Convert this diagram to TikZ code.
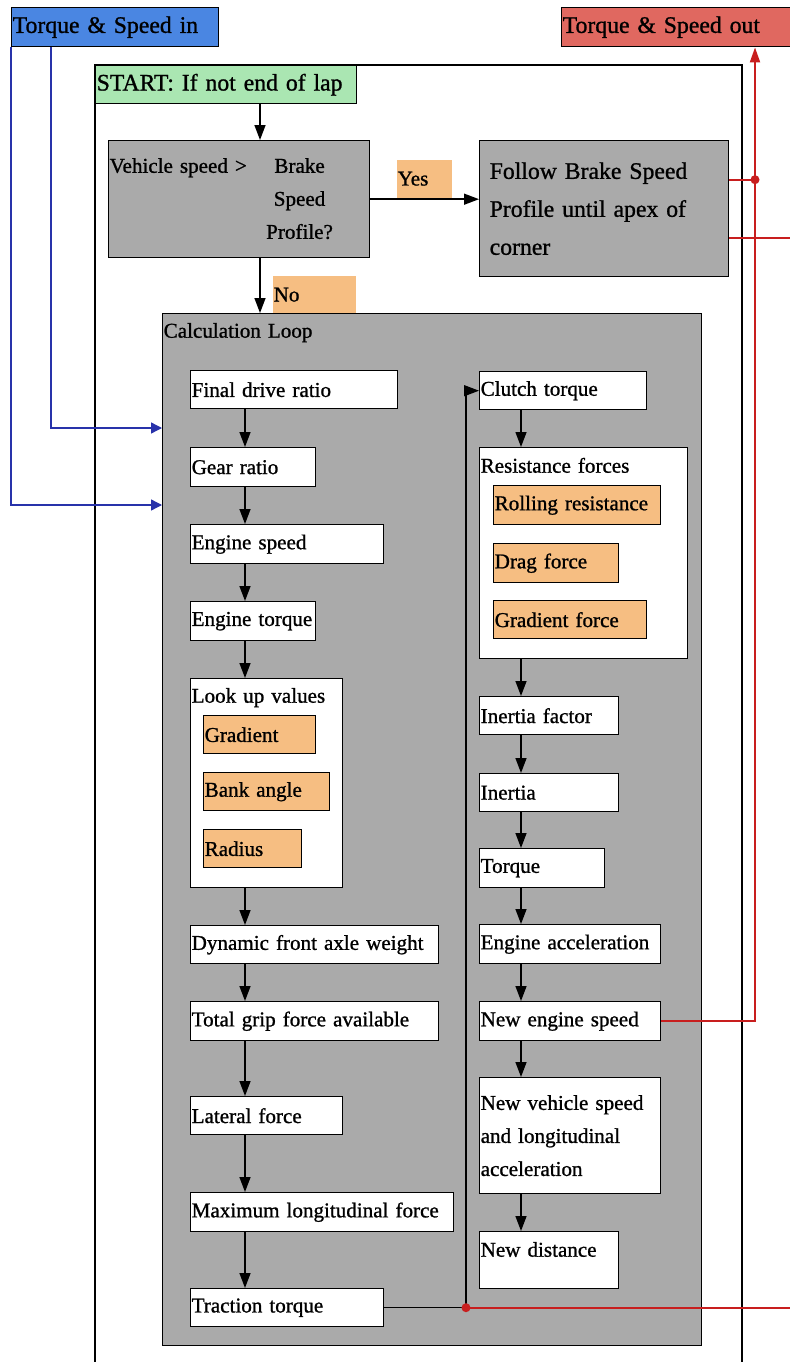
\documentclass[tikz,border=0pt]{standalone}
\usepackage{fontspec}
\setmainfont{Liberation Serif}[FakeBold=1]
\usetikzlibrary{arrows.meta}

\definecolor{inblue}{RGB}{74,134,226}
\definecolor{outred}{RGB}{224,104,96}
\definecolor{startgreen}{RGB}{170,230,178}
\definecolor{loopgray}{RGB}{170,170,170}
\definecolor{tagorange}{RGB}{246,190,130}
\definecolor{wireblue}{RGB}{40,50,170}
\definecolor{wirered}{RGB}{200,30,30}

\tikzset{
    blk/.style={draw, line width=0.8pt, anchor=north west, inner xsep=0.02cm,
        inner ysep=0pt, align=left, font=\fontsize{12}{18.8}\selectfont},
    wbox/.style={blk, fill=white},
    gbox/.style={blk, fill=loopgray},
    obox/.style={blk, fill=tagorange},
    tagbox/.style={blk, draw=none, fill=tagorange},
    big/.style={font=\fontsize{13.5}{21.6}\selectfont},
    arr/.style={line width=0.8pt, -{Triangle[length=0.3cm, width=0.22cm]}},
    bluewire/.style={draw=wireblue, line width=0.8pt, -{Triangle[length=0.22cm, width=0.22cm]}},
    redwire/.style={draw=wirered, line width=1.1pt},
}

\begin{document}
\begin{tikzpicture}[x=0.02cm, y=-0.02cm]
    \useasboundingbox (0,0) rectangle (789,1362);

    % Outer frame
    \draw[line width=0.8pt] (95,1400) |- (742,65) -- (742,1400);

    % In and out
    \node[blk, big, fill=inblue, text width=4.10cm, minimum height=0.78cm] (tin) at (11,7) {Torque \& Speed in};
    \node[blk, big, fill=outred, text width=4.60cm, minimum height=0.78cm] (tout) at (561,7) {Torque \& Speed out};

    % Start and decision
    \node[blk, big, fill=startgreen, text width=5.18cm, minimum height=0.76cm] (start) at (95,65) {START: If not end of lap};
    \node[gbox, text width=5.18cm, minimum height=2.34cm] (dec) at (108,140)
        {\begin{tabular}{@{}l@{\hspace{11pt}}c@{}}Vehicle speed > & Brake\\ & Speed\\ & Profile?\end{tabular}};
    \node[gbox, big, inner xsep=0.2cm, text width=4.58cm, minimum height=2.72cm] (follow) at (479,140)
        {Follow Brake Speed\\Profile until apex of\\corner};
    \node[tagbox, text width=1.06cm, minimum height=0.76cm] (yes) at (396,159) {Yes};
    \node[tagbox, text width=1.62cm, minimum height=0.76cm] (no) at (272,275) {No};

    % Calculation loop
    \node[gbox, text width=10.74cm, text height=0.48cm, text depth=20.16cm] (calc) at (162,313) {Calculation Loop};

    % Left column
    \node[wbox, text width=4.10cm, minimum height=0.76cm] (fdr) at (190,370) {Final drive ratio};
    \node[wbox, text width=2.46cm, minimum height=0.78cm] (gear) at (190,447) {Gear ratio};
    \node[wbox, text width=3.82cm, minimum height=0.78cm] (esp) at (190,524) {Engine speed};
    \node[wbox, text width=2.46cm, minimum height=0.78cm] (etq) at (190,601) {Engine torque};
    \node[wbox, text width=3.00cm, text height=0.48cm, text depth=3.70cm] (look) at (190,678) {Look up values};
    \node[obox, text width=2.20cm, minimum height=0.76cm] (grad) at (203,715) {Gradient};
    \node[obox, text width=2.48cm, minimum height=0.76cm] (bank) at (203,772) {Bank angle};
    \node[obox, text width=1.92cm, minimum height=0.76cm] (rad) at (203,829) {Radius};
    \node[wbox, text width=4.92cm, minimum height=0.76cm] (dfa) at (190,925) {Dynamic front axle weight};
    \node[wbox, text width=4.92cm, minimum height=0.78cm] (tgf) at (190,1001) {Total grip force available};
    \node[wbox, text width=3.00cm, minimum height=0.76cm] (lat) at (190,1096) {Lateral force};
    \node[wbox, text width=5.22cm, minimum height=0.78cm] (mlf) at (190,1192) {Maximum longitudinal force};
    \node[wbox, text width=3.82cm, minimum height=0.76cm] (trac) at (190,1288) {Traction torque};

    % Right column
    \node[wbox, text width=3.30cm, minimum height=0.76cm] (ct) at (479,371) {Clutch torque};
    \node[wbox, text width=4.12cm, text height=0.50cm, text depth=3.72cm] (res) at (479,447) {Resistance forces};
    \node[obox, text width=3.30cm, minimum height=0.78cm] (roll) at (493,485) {Rolling resistance};
    \node[obox, text width=2.46cm, minimum height=0.78cm] (drag) at (493,543) {Drag force};
    \node[obox, text width=3.02cm, minimum height=0.76cm] (gforce) at (493,600) {Gradient force};
    \node[wbox, text width=2.74cm, minimum height=0.76cm] (inf) at (479,696) {Inertia factor};
    \node[wbox, text width=2.74cm, minimum height=0.76cm] (inr) at (479,773) {Inertia};
    \node[wbox, text width=2.46cm, minimum height=0.78cm] (tq) at (479,848) {Torque};
    \node[wbox, text width=3.58cm, minimum height=0.78cm] (eacc) at (479,924) {Engine acceleration};
    \node[wbox, text width=3.58cm, minimum height=0.78cm] (nes) at (479,1001) {New engine speed};
    \node[wbox, text width=3.58cm, minimum height=2.32cm] (nvs) at (479,1077) {New vehicle speed\\and longitudinal\\acceleration};
    \node[wbox, text width=2.74cm, text height=0.50cm, text depth=0.64cm] (nd) at (479,1231) {New distance};

    % Columns for the arrows
    \coordinate (colS) at (260,0);
    \coordinate (colA) at (245,0);
    \coordinate (colB) at (521,0);
    \coordinate (lx) at (466,0);
    \coordinate (rx) at (755,0);
    \coordinate (rend) at (800,0);

    % Top flow
    \draw[arr] (start.south -| colS) -- (dec.north -| colS);
    \draw[arr] (dec.south -| colS) -- (calc.north -| colS);
    \draw[arr] (dec.east) -- (dec.east -| follow.west);

    % Chains
    \foreach \a/\b in {fdr/gear, gear/esp, esp/etq, etq/look, look/dfa, dfa/tgf, tgf/lat, lat/mlf, mlf/trac}
        \draw[arr] (\a.south -| colA) -- (\b.north -| colA);
    \foreach \a/\b in {ct/res, res/inf, inf/inr, inr/tq, tq/eacc, eacc/nes, nes/nvs, nvs/nd}
        \draw[arr] (\a.south -| colB) -- (\b.north -| colB);

    % Loop back to clutch torque
    \draw[arr] (trac.east) -| (ct.west -| lx) -- (ct.west);

    % Inputs
    \coordinate (inA) at (162,428);
    \coordinate (inB) at (162,505);
    \draw[bluewire] ([xshift=0.8cm]tin.south west) |- (inA);
    \draw[bluewire] (tin.south west) |- (inB);

    % Outputs
    \coordinate (fa) at ([yshift=0.58cm]follow.east);
    \coordinate (fb) at ([yshift=-0.58cm]follow.east);
    \coordinate (tj) at (trac.east -| lx);
    \draw[redwire, -{Triangle[length=0.3cm, width=0.2cm]}] (nes.east) -| (tout.south -| rx);
    \draw[redwire] (fa) -- (fa -| rx);
    \draw[redwire] (fb) -- (fb -| rend);
    \draw[redwire] (tj) -- (tj -| rend);
    \fill[wirered] (fa -| rx) circle (0.09cm);
    \fill[wirered] (tj) circle (0.09cm);
\end{tikzpicture}
\end{document}
